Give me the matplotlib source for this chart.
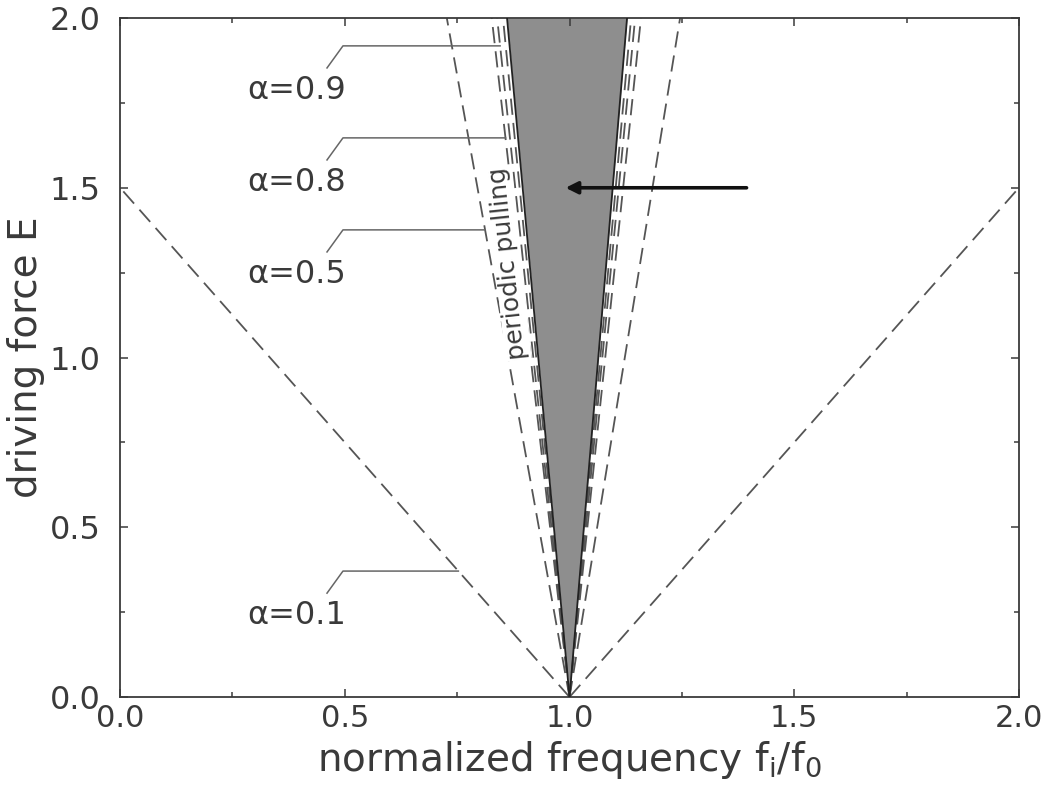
import numpy as np
import matplotlib
matplotlib.use("Agg")
import matplotlib.pyplot as plt

# boundary lines: half widths (left, right) of f_i/f_0 at E = 2
alpha_labels = ["α=0.1", "α=0.5", "α=0.8", "α=0.9"]
half_left = [1.333, 0.273, 0.173, 0.161]
half_right = [1.333, 0.246, 0.159, 0.146]
label_E = [0.371, 1.376, 1.647, 1.918]
extra_left, extra_right = 0.148, 0.137       # unlabeled inner dashed line
cone_left, cone_right = 0.139, 0.128         # shaded locking region
arrow_E = 1.5
arrow_from, arrow_to = 1.40, 0.985

E_top = 2.0
ink = "#3a3a3a"

plt.rcParams['font.family'] = ['DejaVu Sans']
fig = plt.figure(figsize=(10.5, 7.91), dpi=100)
ax = fig.add_axes([0.1143, 0.1188, 0.8562, 0.8584])

E = np.array([0.0, E_top])

# shaded region
ax.fill_betweenx(E, 1 - cone_left * E / E_top, 1 + cone_right * E / E_top,
                 color="#8e8e8e", lw=0, zorder=1)
ax.plot(1 - cone_left * E / E_top, E, color="#222222", lw=1.3, zorder=3)
ax.plot(1 + cone_right * E / E_top, E, color="#222222", lw=1.3, zorder=3)

# dashed boundaries
lefts = half_left + [extra_left]
rights = half_right + [extra_right]
for hl, hr in zip(lefts, rights):
    for x in (1 - hl * E / E_top, 1 + hr * E / E_top):
        ln, = ax.plot(x, E, color="#555555", lw=1.3, zorder=2)
        ln.set_dashes((9, 4.5))

# labels with leader lines
for lab, hl, e in zip(alpha_labels, half_left, label_E):
    x_end = 1 - hl * e / E_top
    ax.plot([0.4605, 0.496, x_end], [e - 0.065, e, e],
            color="#666666", lw=1.1, zorder=2)
    ax.text(0.2825, e - 0.132, lab, fontsize=23, color=ink,
            ha="left", va="center")

ax.text(0.864, 1.277, "periodic pulling", fontsize=18, color=ink,
        rotation=96, ha="center", va="center", rotation_mode="anchor",
        zorder=2.5,
        bbox=dict(boxstyle="square,pad=0.05", fc="white", ec="none"))

ax.annotate("", xy=(arrow_to, arrow_E), xytext=(arrow_from, arrow_E),
            arrowprops=dict(arrowstyle="-|>", color="#111111", lw=2.6,
                            mutation_scale=18), zorder=5)

ax.set_xlim(0, 2)
ax.set_ylim(0, 2)
ax.set_xticks(np.arange(0, 2.01, 0.5))
ax.set_yticks(np.arange(0, 2.01, 0.5))
ax.set_xticks(np.arange(0, 2.01, 0.25), minor=True)
ax.set_yticks(np.arange(0, 2.01, 0.25), minor=True)
ax.set_xticklabels(["0.0", "0.5", "1.0", "1.5", "2.0"])
ax.set_yticklabels(["0.0", "0.5", "1.0", "1.5", "2.0"])
ax.tick_params(which="both", direction="in", top=True, right=True,
               colors=ink, width=1.1)
ax.tick_params(which="major", length=6)
ax.tick_params(which="minor", length=3.5)
ax.tick_params(axis="x", labelsize=22, pad=5)
ax.tick_params(axis="y", labelsize=23, pad=14)
for s in ax.spines.values():
    s.set_color(ink)
    s.set_linewidth(1.3)

ax.set_xlabel(r"normalized frequency f$_\mathregular{i}$/f$_\mathregular{0}$",
              fontsize=28, color=ink, labelpad=4)
ax.set_ylabel("driving force E", fontsize=28, color=ink, labelpad=3)

fig.savefig("out.png", dpi=100)
